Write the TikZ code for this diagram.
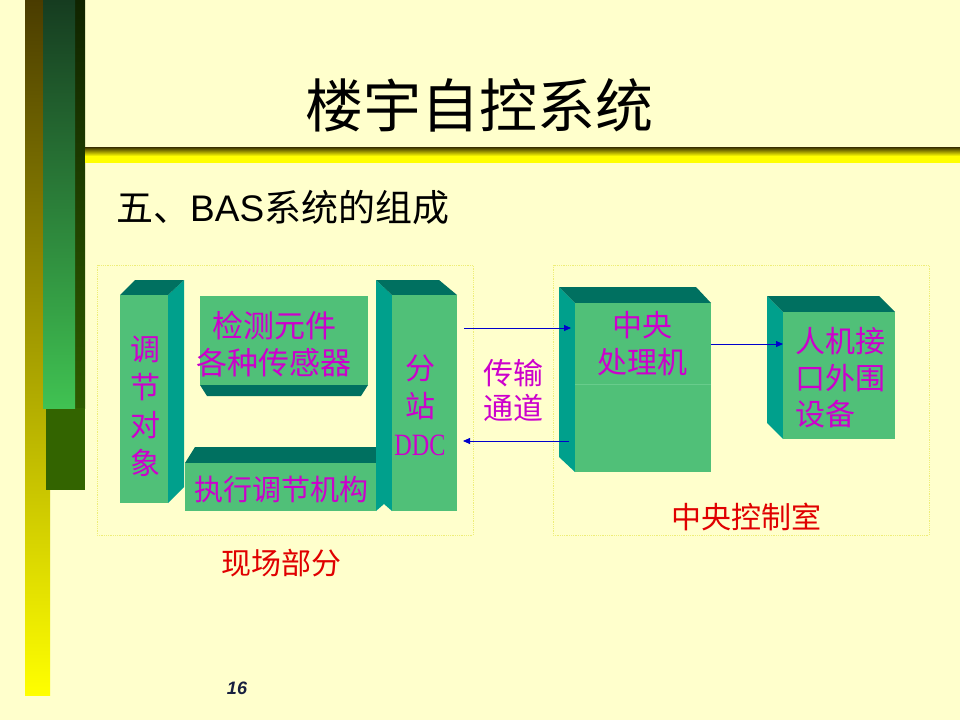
\documentclass[tikz,border=0pt]{standalone}
\usepackage{fontspec}
\setmainfont{Liberation Serif}
\newfontfamily\cjk{Noto Sans CJK SC}
\newfontfamily\arial{Liberation Sans}
\usetikzlibrary{arrows.meta}
\definecolor{bg}{RGB}{255,255,204}
\definecolor{frontc}{RGB}{80,192,120}
\definecolor{topc}{RGB}{0,112,96}
\definecolor{sidec}{RGB}{0,160,140}
\definecolor{magc}{RGB}{204,0,204}
\definecolor{redc}{RGB}{224,0,0}
\definecolor{arrc}{RGB}{0,0,204}
\definecolor{panelc}{RGB}{238,238,120}
\definecolor{navyc}{RGB}{24,32,64}
\definecolor{olivetop}{RGB}{74,60,0}
\definecolor{yellowc}{RGB}{255,255,0}
\definecolor{darktop}{RGB}{16,36,0}
\definecolor{darkbot}{RGB}{46,92,0}
\definecolor{darkblock}{RGB}{51,100,0}
\definecolor{greentop}{RGB}{22,60,32}
\definecolor{greenbot}{RGB}{64,194,82}
\definecolor{bartop}{RGB}{56,46,0}
\definecolor{seamc}{RGB}{104,204,140}
\tikzset{
  frontbox/.style={fill=frontc, draw=none, inner sep=0pt, anchor=north west},
  topface/.style={fill=topc},
  sideface/.style={fill=sidec},
  magtext/.style={text=magc, inner sep=0pt, font=\cjk\fontsize{30}{38}\selectfont},
  redtext/.style={text=redc, inner sep=0pt, font=\cjk\fontsize{30}{36}\selectfont},
  panel/.style={draw=panelc, densely dotted, line width=0.8pt},
  flow/.style={draw=arrc, line width=0.8pt, -{Triangle[length=7pt,width=6pt]}}
}
\begin{document}
\begin{tikzpicture}[x=1pt,y=-1pt]
\fill[bg] (0,0) rectangle (960,720);
\useasboundingbox (0,0) rectangle (960,720);
% left decoration
\shade[top color=olivetop, bottom color=yellowc] (25,0) rectangle (50,695);
\shade[top color=darktop, bottom color=darkbot] (46,0) rectangle (85,408);
\fill[darkblock] (46,408) rectangle (85,490);
\shade[top color=greentop, bottom color=greenbot] (43,0) rectangle (75,408);
% title bar (drawn as thin strips, dark top to yellow bottom)
\foreach \i in {0,...,15}{
  \pgfmathsetmacro{\t}{min(100,\i*100/9)}
  \fill[yellowc!\t!bartop] (85,147+\i) rectangle (960,148.05+\i);
}
% titles
\node[inner sep=0pt] (title) at (479,105) {\cjk\fontsize{58}{58}\selectfont 楼宇自控系统};
\node[inner sep=0pt, anchor=west] (sub) at (116,207) {\cjk\fontsize{37}{37}\selectfont 五、{\arial BAS}系统的组成};
% panels
\draw[panel] (97,265) rectangle (473,535);
\draw[panel] (553,265) rectangle (929,535);
% box: 调节对象
\fill[sideface] (168,295) -- (184,280) -- (184,487) -- (168,503) -- cycle;
\fill[topface] (120,295) -- (135,280) -- (184,280) -- (168,295) -- cycle;
\node[frontbox, minimum width=48pt, minimum height=208pt] (obj) at (120,295) {};
\node[magtext, align=center] (objt) at (145,406) {调\\节\\对\\象};
% box: 检测元件
\fill[topface] (200,385) -- (368,385) -- (361,396) -- (207,396) -- cycle;
\node[frontbox, minimum width=168pt, minimum height=89pt] (sens) at (200,296) {};
\node[magtext, align=center, font=\cjk\fontsize{31}{37}\selectfont] (senst) at (274,344) {检测元件\\各种传感器};
% box: 执行调节机构
\fill[topface] (185,463) -- (195,447) -- (376,447) -- (376,463) -- cycle;
\node[frontbox, minimum width=191pt, minimum height=48pt] (act) at (185,463) {};
\node[magtext, font=\cjk\fontsize{29}{36}\selectfont] (actt) at (281,490) {执行调节机构};
% box: 分站DDC
\fill[sideface] (376,280) -- (392,295) -- (392,511) -- (384,504) -- (376,511) -- cycle;
\fill[topface] (376,280) -- (439,280) -- (457,295) -- (392,295) -- cycle;
\node[frontbox, minimum width=65pt, minimum height=216pt] (ddc) at (392,295) {};
\node[magtext, align=center] (ddct) at (420,405) {分\\站\\{\fontspec{Liberation Serif}\fontsize{31}{38}\selectfont\scalebox{0.78}[1]{DDC}}};
% box: 中央处理机
\fill[sideface] (559,287) -- (575,303) -- (575,472) -- (559,457) -- cycle;
\fill[topface] (559,287) -- (696,287) -- (711,303) -- (575,303) -- cycle;
\node[frontbox, minimum width=136pt, minimum height=169pt] (cpu) at (575,303) {};
\draw[seamc, line width=0.6pt] (cpu.west |- 0,384) -- (cpu.east |- 0,384);
\node[magtext, align=center, font=\cjk\fontsize{30}{37}\selectfont] (cput) at (642,344) {中央\\处理机};
% box: 人机接口外围设备
\fill[sideface] (767,296) -- (783,312) -- (783,439) -- (767,423) -- cycle;
\fill[topface] (767,296) -- (879,296) -- (895,312) -- (783,312) -- cycle;
\node[frontbox, minimum width=112pt, minimum height=127pt] (hmi) at (783,312) {};
\node[magtext, align=left, anchor=west, font=\cjk\fontsize{30}{36.5}\selectfont] (hmit) at (795,378) {人机接\\口外围\\设备};
% arrows
\coordinate (a1s) at (464,328);
\coordinate (a1e) at (571,328);
\coordinate (a2s) at (569,441);
\coordinate (a2e) at (463,441);
\coordinate (a3e) at (783,344);
\draw[flow] (a1s) -- (a1e);
\draw[flow] (a2s) -- (a2e);
\draw[flow] (cpu.east |- a3e) -- (a3e);
% labels
\node[magtext, align=center, font=\cjk\fontsize{30}{35}\selectfont] (chan) at (513,390) {传输\\通道};
\node[redtext] (ctrl) at (746,517) {中央控制室};
\node[redtext] (field) at (281,563) {现场部分};
\node[inner sep=0pt, text=navyc] (page) at (237,688) {\arial\fontsize{18}{18}\selectfont\bfseries\itshape 16};
\end{tikzpicture}
\end{document}
